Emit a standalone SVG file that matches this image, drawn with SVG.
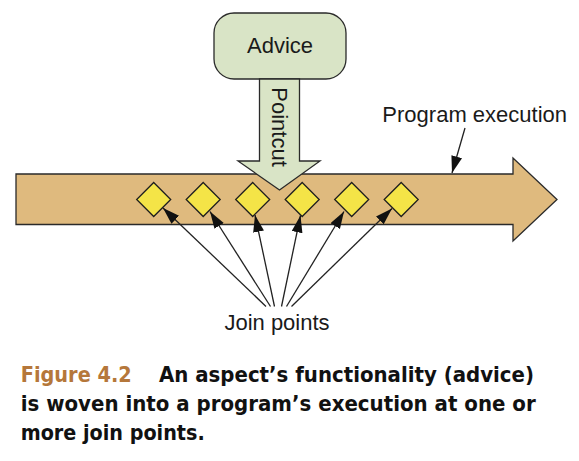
<svg xmlns="http://www.w3.org/2000/svg" width="579" height="461" viewBox="0 0 579 461">
  <style>
    .lbl { font-family: "Liberation Sans", Arial, sans-serif; font-size: 22px; fill: #1a1a1a; }
    .cap { font-family: "DejaVu Sans", "Liberation Sans", sans-serif; font-weight: bold; font-size: 20.5px; fill: #111; }
    .fig { fill: #b5773a; }
    .outline { stroke: #2a2a2a; stroke-width: 1.3; stroke-linejoin: miter; }
    .green { fill: #d9e4c6; }
    .jp { fill: #f4e447; stroke: #1e1e1e; stroke-width: 1.3; }
    .conn { stroke: #222; stroke-width: 1.3; fill: none; marker-end: url(#ah); }
  </style>
  <defs>
    <marker id="ah" markerUnits="userSpaceOnUse" markerWidth="19" markerHeight="13" refX="17" refY="5.5" orient="auto">
      <path d="M0,0 L17,5.5 L0,11 z" fill="#111"/>
    </marker>
  </defs>
  <rect width="579" height="461" fill="#ffffff"/>

  <g id="program-execution">
    <polygon class="outline" fill="#dfba7e" points="16,174 513,174 513,158 557,199.5 513,241 513,224.5 16,224.5"/>
  </g>

  <g id="advice">
    <rect class="outline green" x="214" y="13" width="132" height="66" rx="20" ry="20"/>
    <text class="lbl" x="280" y="52.5" text-anchor="middle">Advice</text>
  </g>

  <g id="pointcut">
    <polygon class="outline green" points="259.5,79 299.5,79 299.5,161 320,161 279.5,190 238,161 259.5,161"/>
    <text class="lbl" transform="translate(272,127) rotate(90)" text-anchor="middle">Pointcut</text>
  </g>

  <g id="join-point-1"><polygon class="jp" points="153.7,182.5 170.7,199.5 153.7,216.5 136.7,199.5"/></g>
  <g id="join-point-2"><polygon class="jp" points="203.2,182.5 220.2,199.5 203.2,216.5 186.2,199.5"/></g>
  <g id="join-point-3"><polygon class="jp" points="252.7,182.5 269.7,199.5 252.7,216.5 235.7,199.5"/></g>
  <g id="join-point-4"><polygon class="jp" points="302.2,182.5 319.2,199.5 302.2,216.5 285.2,199.5"/></g>
  <g id="join-point-5"><polygon class="jp" points="351.7,182.5 368.7,199.5 351.7,216.5 334.7,199.5"/></g>
  <g id="join-point-6"><polygon class="jp" points="401.2,182.5 418.2,199.5 401.2,216.5 384.2,199.5"/></g>

  <g id="label-program-execution">
    <text class="lbl" x="567" y="121.5" text-anchor="end">Program execution</text>
  </g>
  <g id="label-join-points">
    <text class="lbl" x="277" y="329.5" text-anchor="middle">Join points</text>
  </g>

  <g id="connectors">
    <line class="conn" x1="465" y1="128" x2="452" y2="173"/>
    <line class="conn" x1="266" y1="306.5" x2="163" y2="208"/>
    <line class="conn" x1="270.5" y1="306.5" x2="210" y2="211.5"/>
    <line class="conn" x1="274.5" y1="306.5" x2="255" y2="215"/>
    <line class="conn" x1="281.5" y1="306.5" x2="300.5" y2="215.5"/>
    <line class="conn" x1="286.5" y1="306.5" x2="344" y2="211.5"/>
    <line class="conn" x1="291.5" y1="306.5" x2="392" y2="208.5"/>
  </g>

  <g id="caption">
    <text class="cap fig" x="20.7" y="382" textLength="111" lengthAdjust="spacingAndGlyphs">Figure 4.2</text>
    <text class="cap" x="159" y="382" textLength="375" lengthAdjust="spacingAndGlyphs">An aspect’s functionality (advice)</text>
    <text class="cap" x="20.7" y="411" textLength="515" lengthAdjust="spacingAndGlyphs">is woven into a program’s execution at one or</text>
    <text class="cap" x="20.7" y="440" textLength="184" lengthAdjust="spacingAndGlyphs">more join points.</text>
  </g>
</svg>
